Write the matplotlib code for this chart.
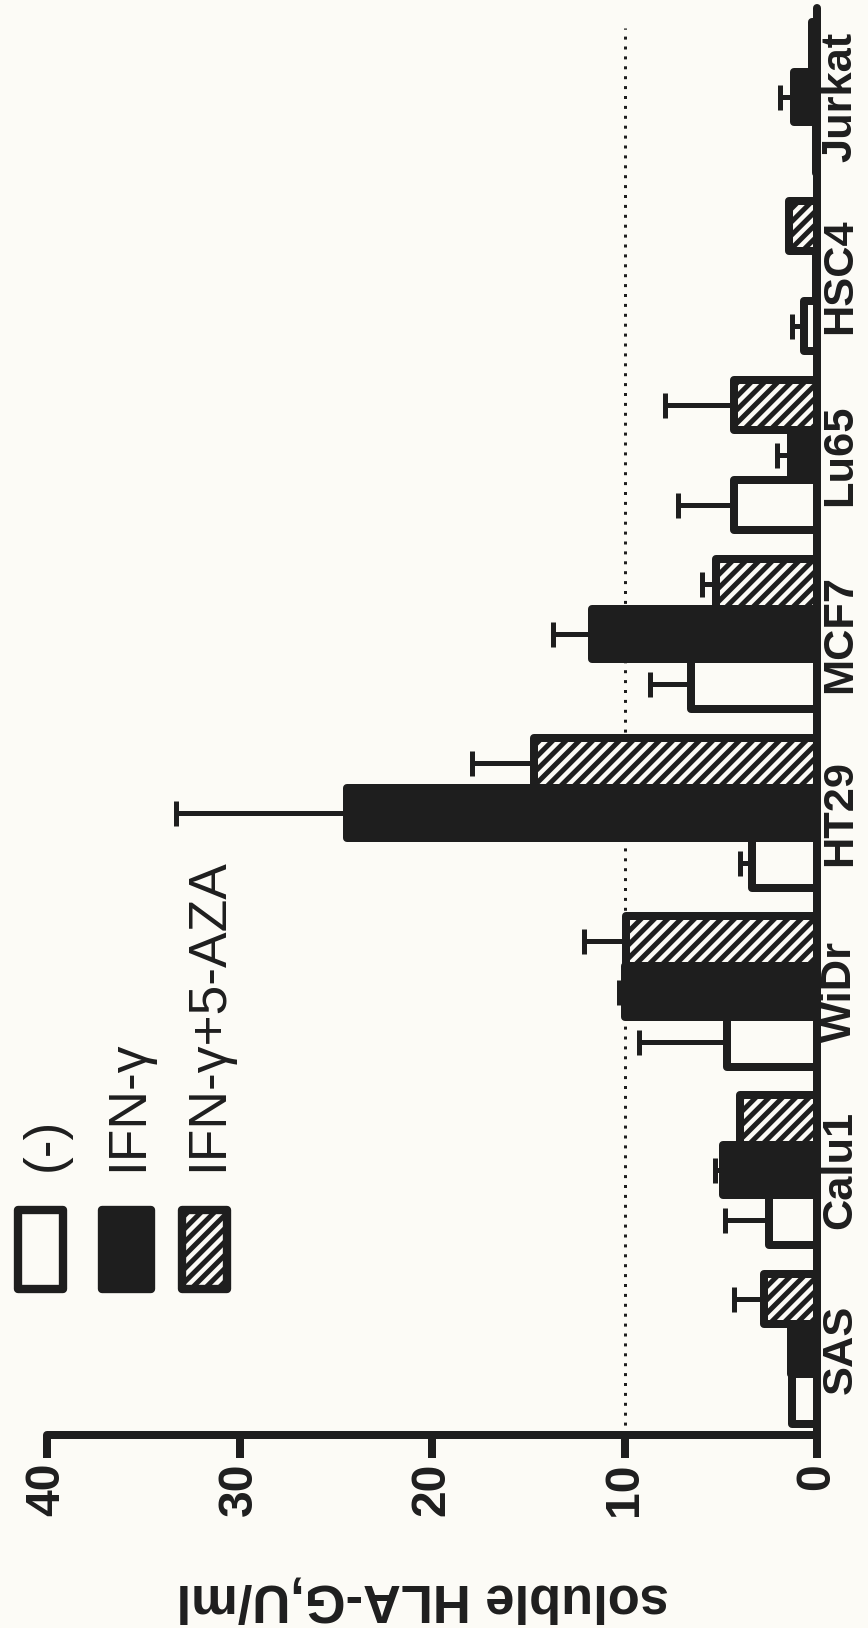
import matplotlib
matplotlib.use("Agg")
import matplotlib.pyplot as plt
import numpy as np
from matplotlib.patches import Rectangle

# ---------------- data ----------------
cell_lines = ["SAS", "Calu1", "WiDr", "HT29", "MCF7", "Lu65", "HSC4", "Jurkat"]
series_names = ["(-)", "IFN-\u03b3", "IFN-\u03b3+5-AZA"]
untreated = [1.3, 2.5, 4.7, 3.4, 6.55, 4.3, 0.7, 0.05]
untreated_err = [0.0, 2.3, 4.55, 0.6, 2.15, 2.9, 0.6, 0.0]
ifn = [1.35, 4.9, 10.0, 24.4, 11.7, 1.35, 0.05, 1.2]
ifn_err = [0.0, 0.4, 0.3, 8.9, 2.0, 0.75, 0.0, 0.7]
ifn_aza = [2.75, 4.0, 9.9, 14.7, 5.25, 4.3, 1.45, 0.25]
ifn_aza_err = [1.55, 0.0, 2.2, 3.2, 0.75, 3.6, 0.0, 0.0]
value_ticks = [0, 10, 20, 30, 40]
reference_level = 10
axis_title = "soluble HLA-G,U/ml"

# ---------------- style ----------------
INK = "#1e1e1e"
PAPER = "#fcfbf6"
W, H, DPI = 868, 1628, 120
plt.rcParams["font.family"] = ["Liberation Sans", "DejaVu Sans"]
plt.rcParams["hatch.linewidth"] = 3.0
plt.rcParams["hatch.color"] = INK

fig = plt.figure(figsize=(W / DPI, H / DPI), dpi=DPI, facecolor=PAPER)
ax = fig.add_axes([47 / W, 1 - 1435 / H, (817 - 47) / W, (1435 - 8) / H])
ax.set_facecolor("none")

pos = np.arange(len(cell_lines))
bw = 0.28
lw_bar = 4.8
HATCH = "///"
series = [
    (untreated, untreated_err, -bw, PAPER, None),
    (ifn, ifn_err, 0.0, INK, None),
    (ifn_aza, ifn_aza_err, bw, PAPER, HATCH),
]
for vals, errs, off, face, hatch in series:
    vals = np.asarray(vals)
    errs = np.asarray(errs)
    ax.errorbar(vals, pos + off, xerr=[np.zeros_like(errs), errs], fmt="none",
                ecolor=INK, elinewidth=3.0, capsize=7.5, capthick=3.0, zorder=2)
    bars = ax.barh(pos + off, vals, height=bw, color=face, edgecolor=INK,
                   linewidth=lw_bar, hatch=hatch, zorder=3)
    for b in bars:
        b.set_joinstyle("round")

ax.axvline(reference_level, ymin=0, ymax=0.986, color=INK, lw=1.8,
           linestyle=(0, (1, 2.3)), zorder=1)

ax.set_xlim(40, 0)
ax.set_ylim(-0.48, 7.5)

for s in ["left", "top"]:
    ax.spines[s].set_visible(False)
for s in ["right", "bottom"]:
    ax.spines[s].set_linewidth(4.8)
    ax.spines[s].set_color(INK)
    ax.spines[s].set_capstyle("round")
    ax.spines[s].set_zorder(4)

ax.set_xticks(value_ticks)
ax.set_xticklabels([str(v) for v in value_ticks], rotation=90,
                   fontsize=28.8, fontweight="bold", color=INK)
ax.tick_params(axis="x", direction="out", length=13.8, width=4.8,
               color=INK, pad=3)

ax.yaxis.tick_right()
ax.set_yticks(pos)
ax.set_yticklabels(cell_lines, rotation=90, fontsize=26, fontweight="bold",
                   color=INK)
ax.tick_params(axis="y", length=0, pad=2)
for lab in ax.get_yticklabels():
    lab.set_va("center")

ax.set_xlabel(axis_title, rotation=180, fontsize=31.5, fontweight="bold",
              color=INK, va="center")
ax.xaxis.set_label_coords((423 - 47) / (817 - 47), (1435 - 1598) / (1435 - 8))

# ---------------- legend (rotated, drawn manually) ----------------
def fx(px):
    return px / W

def fy(py):
    return 1 - py / H

box_x = [(17.5, 62.5), (101.5, 150.5), (181.5, 226.5)]
box_y = (1210, 1289)
faces = [PAPER, INK, PAPER]
hatches = [None, None, HATCH]
text_base_x = [60, 142, 222]
for (x0, x1), fc, hh, tx, name in zip(box_x, faces, hatches, text_base_x, series_names):
    r = Rectangle((fx(x0), fy(box_y[1])), (x1 - x0) / W, (box_y[1] - box_y[0]) / H,
                  transform=fig.transFigure, facecolor=fc, edgecolor=INK,
                  linewidth=5.0, hatch=hh, joinstyle="round")
    fig.add_artist(r)
    fig.text(fx(tx), fy(1171), name, rotation=90, rotation_mode="anchor",
             ha="left", va="baseline", fontsize=32, color=INK)

fig.savefig("out.png", dpi=DPI, facecolor=PAPER)
